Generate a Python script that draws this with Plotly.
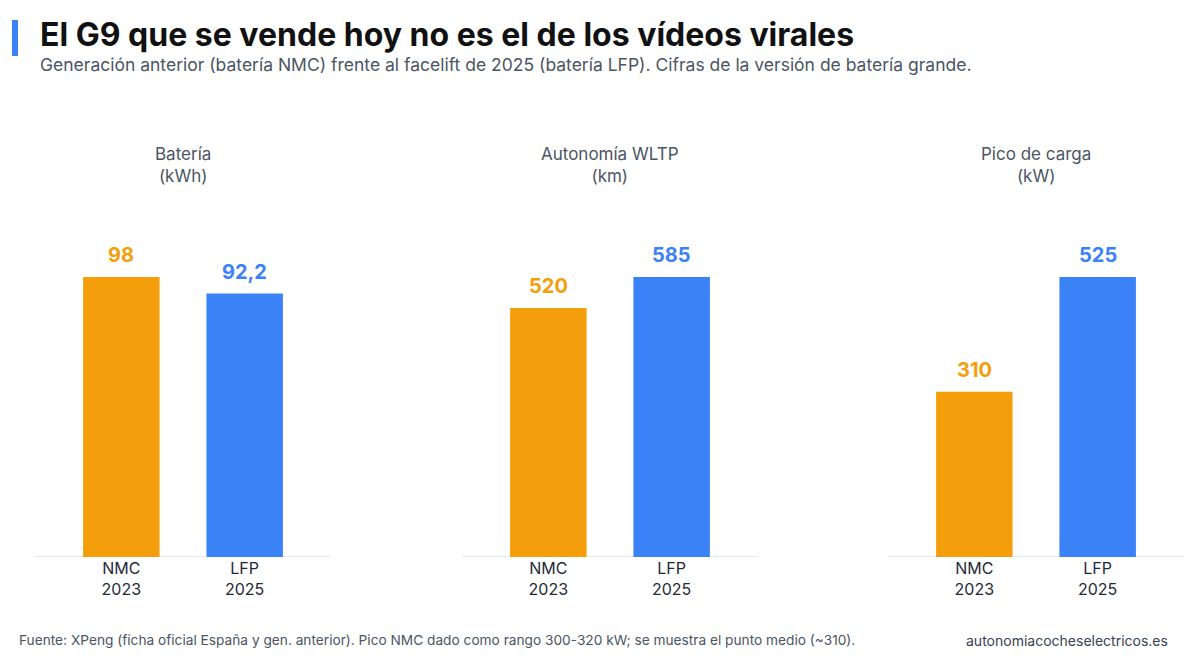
import plotly.graph_objects as go

categories = ["NMC<br>2023", "LFP<br>2025"]
panel_titles = ["Batería<br>(kWh)", "Autonomía WLTP<br>(km)", "Pico de carga<br>(kW)"]
bateria = [98, 92.2]
autonomia = [520, 585]
pico = [310, 525]
series = [bateria, autonomia, pico]
bar_colors = ["#F59E0B", "#3B82F6"]

FONT = "Inter"
fig = go.Figure()

domains = [(35/1200, 331/1200), (462/1200, 758/1200), (888/1200, 1184/1200)]
y_dom = (1 - 557/666, 1 - 235/666)

def fmt(v):
    s = f"{v:g}"
    return s.replace(".", ",")

for i, vals in enumerate(series):
    ax = "" if i == 0 else str(i + 1)
    fig.add_trace(go.Bar(
        x=[0, 1], y=vals,
        marker=dict(color=bar_colors, line=dict(width=0)),
        width=0.62,
        hoverinfo="skip",
        xaxis="x" + ax, yaxis="y" + ax,
        showlegend=False,
    ))
    for j, v in enumerate(vals):
        fig.add_annotation(
            x=j, y=v, xref="x" + ax, yref="y" + ax,
            text="<b>" + fmt(v) + "</b>", showarrow=False,
            yanchor="bottom", yshift=8,
            font=dict(family=FONT, size=20, color=bar_colors[j]),
        )
    mx = max(vals)
    fig.layout["xaxis" + ax] = dict(
        domain=list(domains[i]), range=[-0.7, 1.7],
        tickvals=[0, 1], ticktext=categories,
        tickfont=dict(family=FONT, size=16, color="#1F2937"),
        showgrid=False, zeroline=False, showline=False, ticks="",
        anchor="y" + ax, fixedrange=True,
    )
    fig.layout["yaxis" + ax] = dict(
        domain=list(y_dom), range=[0, mx * 322 / 280],
        visible=False, showgrid=False, zeroline=False,
        anchor="x" + ax, fixedrange=True,
    )
    fig.add_shape(type="line", xref=("x" + ax + " domain") if ax else "x domain",
                  yref="y" + ax if ax else "y",
                  x0=0, x1=1, y0=0, y1=0,
                  line=dict(color="#DCE4EE", width=1.5), layer="below")
    fig.add_annotation(
        text=panel_titles[i], xref="paper", yref="paper",
        x=(domains[i][0] + domains[i][1]) / 2, y=1 - 165/666,
        showarrow=False, xanchor="center", yanchor="middle",
        font=dict(family=FONT, size=17, color="#4B5563"), align="center",
    )

# header
fig.add_shape(type="line", xref="paper", yref="paper",
              x0=15/1200, x1=15/1200, y0=1 - 20/666, y1=1 - 56/666,
              line=dict(color="#3B82F6", width=6))
fig.add_annotation(
    text="<b>El G9 que se vende hoy no es el de los vídeos virales</b>",
    xref="paper", yref="paper", x=38/1200, y=1 - 35/666,
    xanchor="left", yanchor="middle", showarrow=False,
    font=dict(family=FONT, size=32, color="#111111"),
)
fig.add_annotation(
    text="Generación anterior (batería NMC) frente al facelift de 2025 (batería LFP). Cifras de la versión de batería grande.",
    xref="paper", yref="paper", x=38/1200, y=1 - 64/666,
    xanchor="left", yanchor="middle", showarrow=False,
    font=dict(family=FONT, size=17.5, color="#4B5563"),
)
fig.add_annotation(
    text="Fuente: XPeng (ficha oficial España y gen. anterior). Pico NMC dado como rango 300-320 kW; se muestra el punto medio (~310).",
    xref="paper", yref="paper", x=17/1200, y=1 - 640/666,
    xanchor="left", yanchor="middle", showarrow=False,
    font=dict(family=FONT, size=13.7, color="#4B5563"),
)
fig.add_annotation(
    text="autonomiacocheselectricos.es",
    xref="paper", yref="paper", x=1170/1200, y=1 - 640/666,
    xanchor="right", yanchor="middle", showarrow=False,
    font=dict(family=FONT, size=14, color="#374151"),
)

fig.update_layout(
    width=1200, height=666,
    margin=dict(l=0, r=0, t=0, b=0),
    paper_bgcolor="white", plot_bgcolor="white",
    font=dict(family=FONT),
)
fig.write_html("out.html", config={"displayModeBar": False})
